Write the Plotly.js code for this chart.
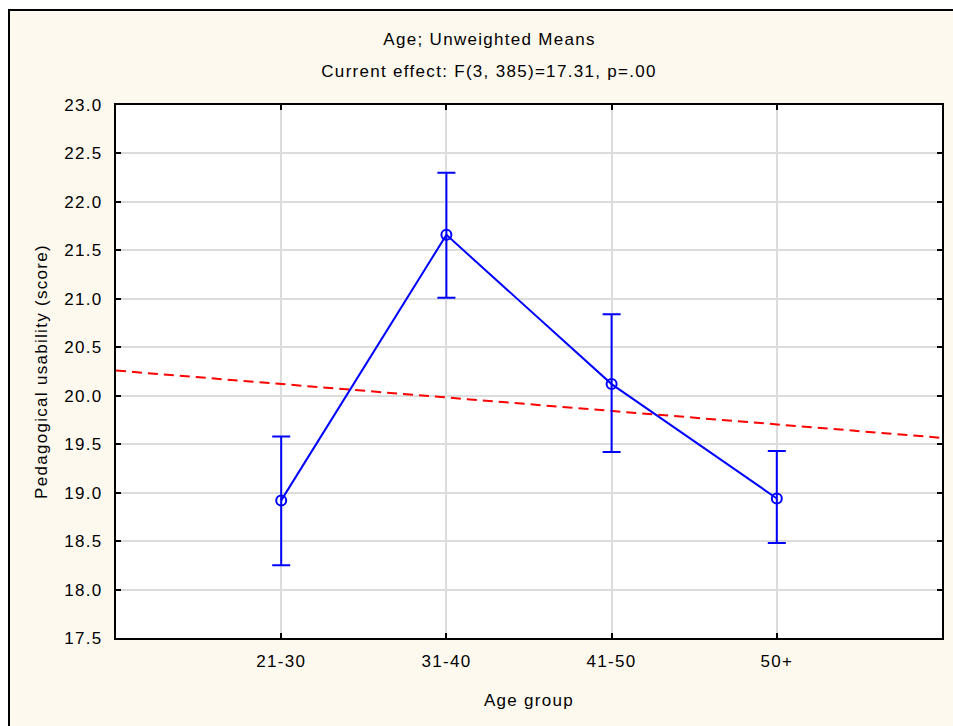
<!DOCTYPE html>
<html>
<head>
<meta charset="utf-8">
<script src="https://cdn.plot.ly/plotly-3.0.1.min.js"></script>
<style>
  html, body { margin: 0; padding: 0; background: #ffffff; }
  #chart { position: absolute; left: 8px; top: 9px; width: 943px; height: 715px;
           border-top: 2px solid #000; border-left: 2px solid #000; background: #FEF9EE; }
  #chart svg text { letter-spacing: 1.3px; }
</style>
</head>
<body>
<div id="chart"></div>
<script>
// ---- data ----
const categories = ['21-30', '31-40', '41-50', '50+'];
const categoryPos = [1, 2, 3, 4];
const means = [18.92, 21.66, 20.12, 18.94];
const upperCI = [19.58, 22.30, 20.84, 19.43];
const lowerCI = [18.25, 21.01, 19.42, 18.48];
const refLineX = [0, 5];
const refLineY = [20.26, 19.565];
const yTickVals = [17.5, 18.0, 18.5, 19.0, 19.5, 20.0, 20.5, 21.0, 21.5, 22.0, 22.5, 23.0];
const titleLine1 = 'Age; Unweighted Means';
const titleLine2 = 'Current effect: F(3, 385)=17.31, p=.00';
const xTitle = 'Age group';
const yTitle = 'Pedagogical usability (score)';

const errPlus = means.map((m, i) => upperCI[i] - m);
const errMinus = means.map((m, i) => m - lowerCI[i]);

const FONT = 'Liberation Sans, Arial, sans-serif';
const FS = 17;

const traces = [
  {
    x: refLineX, y: refLineY, type: 'scatter', mode: 'lines',
    line: { color: '#FF0000', width: 2, dash: '10px,6px' },
    hoverinfo: 'skip', showlegend: false
  },
  {
    x: categoryPos, y: means, type: 'scatter', mode: 'lines+markers',
    line: { color: '#0000FF', width: 2 },
    marker: { symbol: 'circle-open', size: 10, color: '#0000FF', line: { width: 2, color: '#0000FF' } },
    error_y: { type: 'data', symmetric: false, array: errPlus, arrayminus: errMinus,
               color: '#0000FF', thickness: 2, width: 9 },
    showlegend: false
  }
];

const layout = {
  width: 943, height: 715,
  margin: { l: 106, r: 11, t: 94, b: 88 },
  paper_bgcolor: '#FEF9EE',
  plot_bgcolor: '#FFFFFF',
  font: { family: FONT, size: FS, color: '#000000' },
  showlegend: false,
  xaxis: {
    range: [0, 5], tickvals: categoryPos, ticktext: categories,
    showgrid: true, gridcolor: '#DCDCDC', gridwidth: 2, zeroline: false,
    showline: true, linecolor: '#000', linewidth: 2, mirror: 'ticks',
    ticks: 'inside', ticklen: 5, tickwidth: 2, tickcolor: '#000',
    ticklabelstandoff: 7,
    tickfont: { family: FONT, size: FS, color: '#000' },
    title: { text: xTitle, font: { family: FONT, size: FS, color: '#000' }, standoff: 24 },
    fixedrange: true
  },
  yaxis: {
    range: [17.5, 23.0], tickvals: yTickVals, ticktext: yTickVals.map(v => v.toFixed(1)),
    showgrid: true, gridcolor: '#DCDCDC', gridwidth: 2, zeroline: false,
    showline: true, linecolor: '#000', linewidth: 2, mirror: 'ticks',
    ticks: 'inside', ticklen: 5, tickwidth: 2, tickcolor: '#000',
    ticklabelstandoff: 8,
    tickfont: { family: FONT, size: FS, color: '#000' },
    title: { text: yTitle, font: { family: FONT, size: FS, color: '#000' }, standoff: 18 },
    fixedrange: true
  },
  annotations: [
    { text: titleLine1, xref: 'paper', yref: 'paper', x: 0.452, y: 1.122,
      xanchor: 'center', yanchor: 'middle', showarrow: false,
      font: { family: FONT, size: FS, color: '#000' } },
    { text: titleLine2, xref: 'paper', yref: 'paper', x: 0.452, y: 1.062,
      xanchor: 'center', yanchor: 'middle', showarrow: false,
      font: { family: FONT, size: FS, color: '#000' } }
  ]
};

Plotly.newPlot('chart', traces, layout, { displayModeBar: false, staticPlot: true });
</script>
</body>
</html>
